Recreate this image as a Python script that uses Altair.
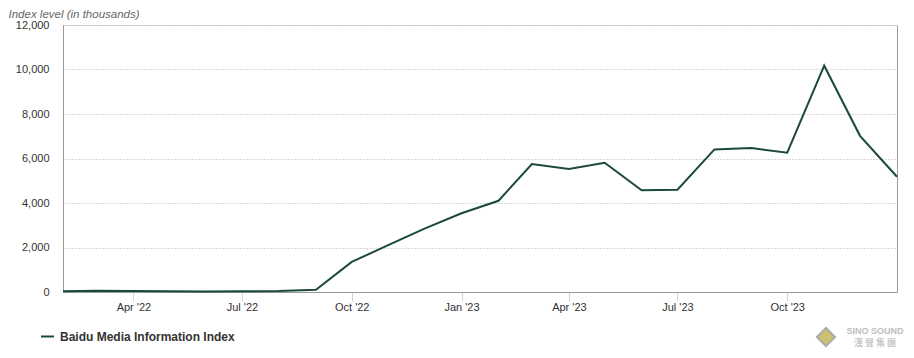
import altair as alt
import pandas as pd

# ---- data ----
months = [
    "2022-02-01", "2022-03-01", "2022-04-01", "2022-05-01", "2022-06-01", "2022-07-01",
    "2022-08-01", "2022-09-01", "2022-10-01", "2022-11-01", "2022-12-01", "2023-01-01",
    "2023-02-01", "2023-03-01", "2023-04-01", "2023-05-01", "2023-06-01", "2023-07-01",
    "2023-08-01", "2023-09-01", "2023-10-01", "2023-11-01", "2023-12-01", "2024-01-01",
]
index_values = [
    30, 60, 50, 30, 20, 30,
    40, 100, 1350, 2120, 2850, 3540,
    4100, 5750, 5530, 5810, 4570, 4600,
    6410, 6470, 6260, 10170, 7020, 5180,
]
series_name = "Baidu Media Information Index"
x_ticks = [(2022, 4), (2022, 7), (2022, 10), (2023, 1), (2023, 4), (2023, 7), (2023, 10)]
y_ticks = [0, 2000, 4000, 6000, 8000, 10000, 12000]
y_title = "Index level (in thousands)"
logo_top = "SINO SOUND"
logo_bottom = "漢 聲 集 團"

df = pd.DataFrame({"date": months, "value": index_values, "series": series_name})

FONT = "Liberation Sans"
LINE_COLOR = "#1b4a3a"

x_enc = alt.X(
    "date:T",
    scale=alt.Scale(type="utc", nice=False),
    axis=alt.Axis(
        values=[alt.DateTime(year=y, month=m, date=1, utc=True) for y, m in x_ticks],
        labelExpr="utcFormat(datum.value, \"%b '%y\")",
        grid=False,
        tickColor="#ccd6eb",
        tickSize=9,
        labelPadding=0,
        domainColor="#999999",
        labelColor="#333333",
        labelFontSize=11,
        title=None,
    ),
)

y_scale = alt.Scale(domain=[0, 12000], nice=False)

line = alt.Chart(df).mark_line(strokeWidth=2).encode(
    x=x_enc,
    y=alt.Y(
        "value:Q",
        scale=y_scale,
        axis=alt.Axis(
            values=y_ticks,
            labelExpr="format(datum.value, ',')",
            grid=True,
            gridDash=[1, 2],
            gridColor="#b0b0b0",
            ticks=False,
            labelPadding=14,
            domainColor="#999999",
            labelColor="#333333",
            labelFontSize=11,
            title=y_title,
            titleAngle=0,
            titleX=-55,
            titleY=-17,
            titleAlign="left",
            titleBaseline="top",
            titleFontStyle="italic",
            titleFontWeight="normal",
            titleFontSize=11.5,
            titleColor="#666666",
        ),
    ),
    color=alt.Color(
        "series:N",
        scale=alt.Scale(range=[LINE_COLOR]),
        legend=alt.Legend(
            orient="none",
            legendX=-23,
            legendY=304,
            title=None,
            symbolType="stroke",
            symbolStrokeWidth=2,
            symbolSize=169,
            labelFontWeight="bold",
            labelFontSize=12,
            labelColor="#333333",
            labelOffset=5,
            labelLimit=0,
        ),
    ),
)

border = alt.Chart(df).mark_line(opacity=0).encode(
    x=x_enc,
    y=alt.Y(
        "value:Q",
        scale=y_scale,
        axis=alt.Axis(orient="right", labels=False, ticks=False, grid=False,
                      domainColor="#999999", title=None),
    ),
)

logo_df = pd.DataFrame({"a": [logo_top], "b": [logo_bottom]})
logo_icon = alt.Chart(logo_df).mark_point(
    shape="diamond", filled=True, size=330, color="#b8a631", stroke="#888888", strokeWidth=2
).encode(x=alt.value(763), y=alt.value(312))
logo_t1 = alt.Chart(logo_df).mark_text(
    font=FONT, fontSize=9, fontWeight="bold", color="#bdbdbd"
).encode(x=alt.value(812), y=alt.value(306), text="a:N")
logo_t2 = alt.Chart(logo_df).mark_text(
    font="Noto Sans CJK TC", fontSize=9, fontWeight="bold", color="#c8c8c8"
).encode(x=alt.value(812), y=alt.value(318), text="b:N")

chart = (
    alt.layer(line, border, logo_icon, logo_t1, logo_t2)
    .resolve_scale(y="independent")
    .properties(
        width=834,
        height=267,
        padding={"left": 55, "top": 17, "right": 9, "bottom": 58},
        autosize=alt.AutoSizeParams(type="none"),
    )
    .configure_view(stroke=None)
    .configure(font=FONT)
    .configure_axis(labelFont=FONT, titleFont=FONT)
    .configure_legend(labelFont=FONT)
)

chart.save("out.html", embed_options={"renderer": "svg", "actions": False})
